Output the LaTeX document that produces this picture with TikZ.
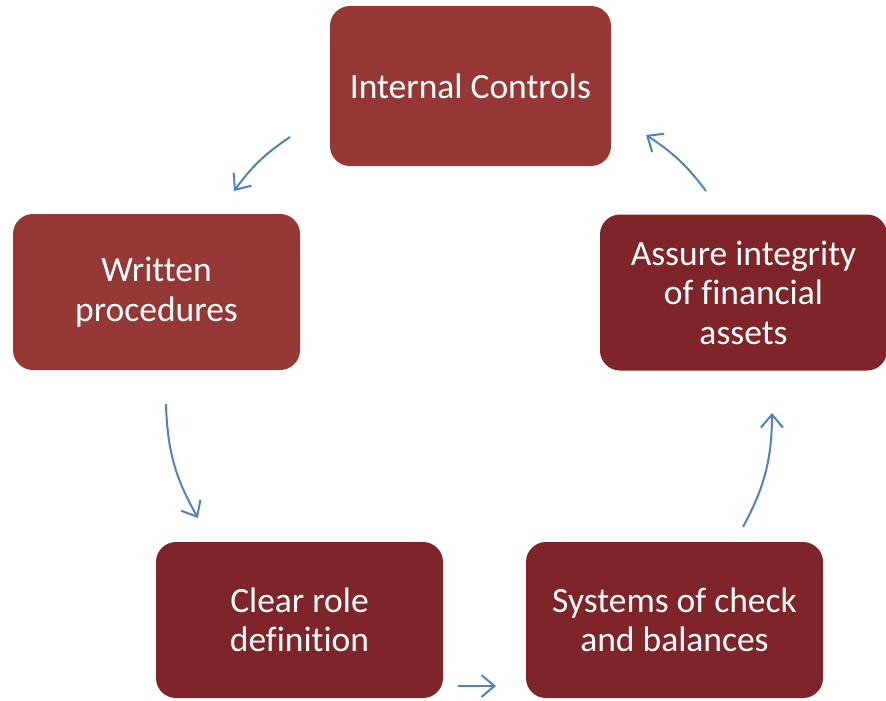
\documentclass[tikz,border=0pt]{standalone}
\usepackage{fontspec}
\setmainfont{Carlito}[Ligatures=NoCommon]
\usetikzlibrary{arrows.meta}

\definecolor{redlight}{HTML}{953735}
\definecolor{reddark}{HTML}{7F2428}
\definecolor{flowblue}{HTML}{4F81BD}

\begin{document}
\begin{tikzpicture}[x=1pt, y=-1pt,
    stage/.style={rounded corners=20pt, minimum width=287pt, minimum height=156pt,
        text=white, align=center, inner sep=0pt,
        font=\fontsize{35.5}{39.5}\selectfont},
    flow/.style={flowblue, line width=2pt,
        -{Straight Barb[length=13pt, width=22pt, line width=2pt]}}]
    \useasboundingbox (0,0) rectangle (886,701);
    % the five stages of the cycle
    \node[stage, fill=redlight, minimum width=281pt, minimum height=160pt] (ic) at (470.5,86) {Internal Controls};
    \node[stage, fill=redlight] (wp) at (156.5,292) {Written\\procedures};
    \node[stage, fill=reddark] (ai) at (743.5,292.5) {Assure integrity\\of financial\\assets};
    \node[stage, fill=reddark] (cr) at (299.5,620) {Clear role\\definition};
    \node[stage, fill=reddark, minimum width=297pt] (sc) at (674.5,620) {Systems of check\\and balances};
    % arrow ends between the stages
    \coordinate (a1) at (290,137);  \coordinate (b1) at (234,191);
    \coordinate (a2) at (166,404);  \coordinate (b2) at (198,518);
    \coordinate (a3) at (458,686);  \coordinate (b3) at (496,686);
    \coordinate (a4) at (743,527);  \coordinate (b4) at (772,413);
    \coordinate (a5) at (706,191);  \coordinate (b5) at (646,135);
    \draw[flow] (a1) to[bend right=10] (b1);
    \draw[flow] (a2) to[bend right=14] (b2);
    \draw[flow] (a3) -- (b3);
    \draw[flow] (a4) to[bend right=14] (b4);
    \draw[flow] (a5) to[bend right=10] (b5);
\end{tikzpicture}
\end{document}
